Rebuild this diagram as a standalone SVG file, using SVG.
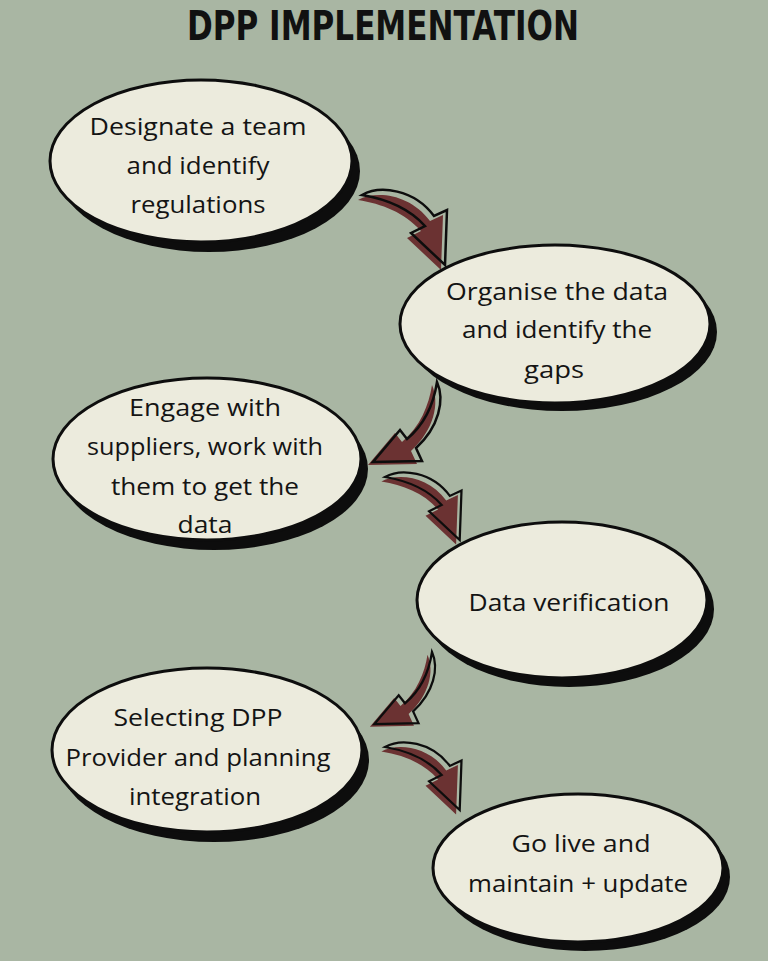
<svg xmlns="http://www.w3.org/2000/svg" xmlns:xlink="http://www.w3.org/1999/xlink" width="768" height="961" viewBox="0 0 768 961">
<style>
.bg{fill:#a9b6a3}
.sh{fill:#0d0d0d}
.el{fill:#ecebdd;stroke:#0d0d0d;stroke-width:3}
.t{font-family:"Open Sans",Lato,sans-serif;font-size:23px;fill:#141414;text-anchor:middle}
.title{font-family:"DejaVu Sans","Liberation Sans",sans-serif;font-weight:bold;font-size:40px;fill:#111;text-anchor:middle}
.am{fill:#6b3232}
.ao{fill:none;stroke:#0d0d0d;stroke-width:2.5;stroke-linejoin:miter}
</style>
<defs>
<path id="arR" d="M0,0 C18,-10 52,-6 72,21 L85,15 L83,70 L49,38 L63,31 C46,12 24,4 0,0 Z"/>
<path id="arL" d="M0,0 C8,18 2,45 -21,66 L-15,79 L-64,80 L-37,48 L-30,57 C-12,42 -3,20 0,0 Z"/>
<g id="arrowR"><use xlink:href="#arR" class="am" transform="translate(-4,5)"/><use xlink:href="#arR" class="ao"/></g>
<g id="arrowL"><use xlink:href="#arL" class="am" transform="translate(-5,3)"/><use xlink:href="#arL" class="ao"/></g>
</defs>
<rect class="bg" x="0" y="0" width="768" height="961"/>
<text class="title" x="383" y="40" textLength="392" lengthAdjust="spacingAndGlyphs">DPP IMPLEMENTATION</text>

<g id="connectors">
<use xlink:href="#arrowR" transform="translate(362,195)"/>
<use xlink:href="#arrowL" transform="translate(437,382)"/>
<use xlink:href="#arrowR" transform="translate(385,477) scale(0.9)"/>
<use xlink:href="#arrowL" transform="translate(432,652) scale(0.9)"/>
<use xlink:href="#arrowR" transform="translate(385,747) scale(0.9)"/>
</g>

<g id="node1">
<ellipse class="sh" cx="209" cy="171" rx="151" ry="81"/>
<ellipse class="el" cx="201" cy="161" rx="151" ry="81"/>
<text class="t" x="198" y="135" textLength="217" lengthAdjust="spacingAndGlyphs">Designate a team</text>
<text class="t" x="198" y="174" textLength="143" lengthAdjust="spacingAndGlyphs">and identify</text>
<text class="t" x="198" y="213" textLength="135" lengthAdjust="spacingAndGlyphs">regulations</text>
</g>
<g id="node2">
<ellipse class="sh" cx="562" cy="332" rx="155" ry="79"/>
<ellipse class="el" cx="555" cy="324" rx="155" ry="79"/>
<text class="t" x="557" y="300" textLength="222" lengthAdjust="spacingAndGlyphs">Organise the data</text>
<text class="t" x="557" y="338" textLength="190" lengthAdjust="spacingAndGlyphs">and identify the</text>
<text class="t" x="554" y="378" textLength="60" lengthAdjust="spacingAndGlyphs">gaps</text>
</g>
<g id="node3">
<ellipse class="sh" cx="214" cy="469" rx="154" ry="81"/>
<ellipse class="el" cx="207" cy="459" rx="154" ry="81"/>
<text class="t" x="205" y="416" textLength="152" lengthAdjust="spacingAndGlyphs">Engage with</text>
<text class="t" x="205" y="455" textLength="236" lengthAdjust="spacingAndGlyphs">suppliers, work with</text>
<text class="t" x="205" y="495" textLength="188" lengthAdjust="spacingAndGlyphs">them to get the</text>
<text class="t" x="205" y="533" textLength="55" lengthAdjust="spacingAndGlyphs">data</text>
</g>
<g id="node4">
<ellipse class="sh" cx="569" cy="609" rx="145" ry="78"/>
<ellipse class="el" cx="562" cy="600" rx="145" ry="78"/>
<text class="t" x="569" y="611" textLength="201" lengthAdjust="spacingAndGlyphs">Data verification</text>
</g>
<g id="node5">
<ellipse class="sh" cx="214" cy="760" rx="155" ry="82"/>
<ellipse class="el" cx="207" cy="750" rx="155" ry="82"/>
<text class="t" x="198" y="726" textLength="169" lengthAdjust="spacingAndGlyphs">Selecting DPP</text>
<text class="t" x="198" y="766" textLength="265" lengthAdjust="spacingAndGlyphs">Provider and planning</text>
<text class="t" x="195" y="805" textLength="132" lengthAdjust="spacingAndGlyphs">integration</text>
</g>
<g id="node6">
<ellipse class="sh" cx="585" cy="877" rx="145" ry="74"/>
<ellipse class="el" cx="578" cy="868" rx="145" ry="74"/>
<text class="t" x="581" y="852" textLength="139" lengthAdjust="spacingAndGlyphs">Go live and</text>
<text class="t" x="578" y="892" textLength="220" lengthAdjust="spacingAndGlyphs">maintain + update</text>
</g>
</svg>
